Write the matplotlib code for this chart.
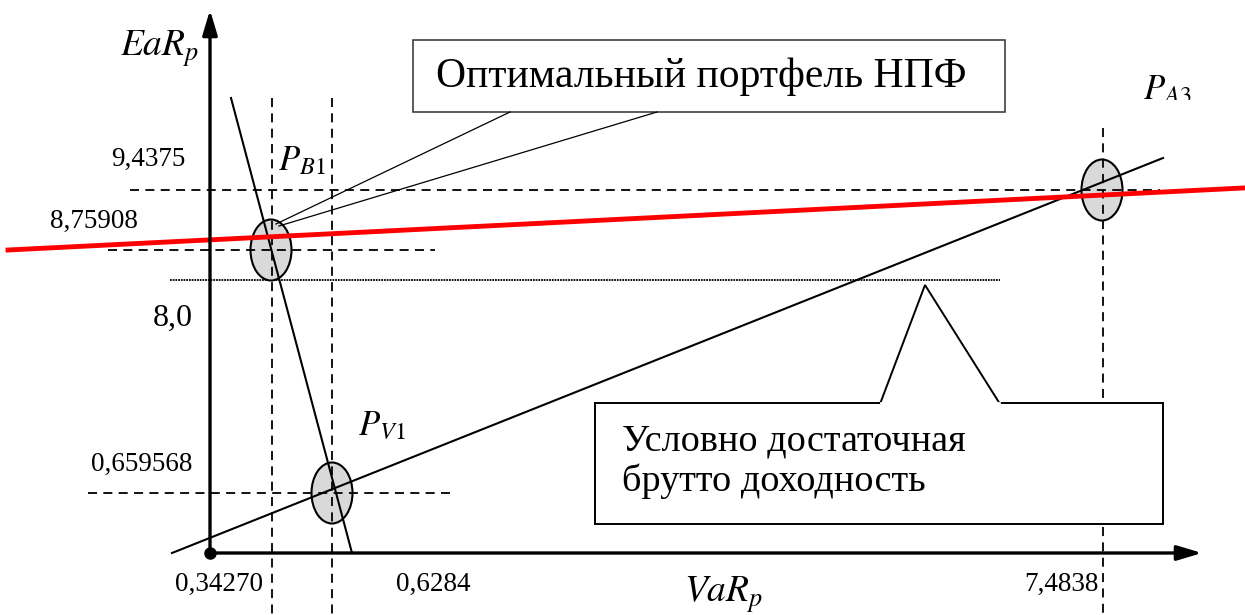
import matplotlib
matplotlib.use("Agg")
import matplotlib.pyplot as plt
from matplotlib.patches import Ellipse, Rectangle, Polygon

plt.rcParams['font.family'] = ['Liberation Serif', 'DejaVu Serif']
plt.rcParams['mathtext.fontset'] = 'stix'

# ---------- ДАННЫЕ (координаты схемы, пиксели рисунка) ----------
origin = (210, 553)
y_axis_top = 10
x_axis_end = 1202

# уровни по оси EaR_p и их подписи
y_levels = [190, 250, 493]
y_level_labels = ["9,4375", "8,75908", "0,659568"]
y_level_spans = [(130, 1160), (108, 435), (88, 455)]
y_label_pos = [(185, 166), (138, 228), (192, 471)]

# уровни по оси VaR_p
x_levels = [272, 332, 1103]
x_level_tops = [98, 98, 128]
x_level_labels = ["0,34270", "0,6284", "7,4838"]
x_label_pos = [(219, 591), (433, 591), (1061, 591)]

# условно достаточная доходность 8,0
level_8 = 280
level_8_span = (170, 1000)

# линии
red_line_x = [8, 1243]
red_line_y = [250, 188]
steep_x = [231, 352]
steep_y = [98, 553]
shallow_x = [172, 1163]
shallow_y = [553, 158]

# портфели
portfolios = ["$P_{B1}$", "$P_{V1}$", "$P_{A3}$"]
port_centers = [(271, 250), (332, 493), (1102, 190)]
port_label_pos = [(278, 170), (358, 435), (1143, 99)]

# ---------- РИСУНОК ----------
fig = plt.figure(figsize=(12.45, 6.15), dpi=100)
ax = fig.add_axes([0, 0, 1, 1])
ax.set_xlim(0, 1245)
ax.set_ylim(615, 0)
ax.axis('off')

dash = (0, (5, 3.5))

ax.plot(level_8_span, [level_8, level_8], color='black', lw=1.3,
        linestyle=(0, (1, 0.5)), zorder=2)

# эллипсы портфелей
for cx, cy in port_centers:
    ax.add_patch(Ellipse((cx, cy), 41, 61, facecolor='#d9d9d9',
                         edgecolor='black', lw=1.5, zorder=3))
for x, top in zip(x_levels, x_level_tops):
    ax.plot([x, x], [top, 615], color='black', lw=1.3, linestyle=dash, zorder=3.5)
for y, (x0, x1) in zip(y_levels, y_level_spans):
    ax.plot([x0, x1], [y, y], color='black', lw=1.3, linestyle=dash, zorder=3.5)

ax.plot(steep_x, steep_y, color='black', lw=1.5, zorder=4)
ax.plot(shallow_x, shallow_y, color='black', lw=1.5, zorder=4)
ax.plot(red_line_x, red_line_y, color='#ff0000', lw=3.5, zorder=5)

# оси
ax.annotate('', xy=(origin[0], y_axis_top), xytext=(origin[0], origin[1]),
            arrowprops=dict(arrowstyle='-|>,head_length=1.5,head_width=0.45',
                            lw=2.4, color='black', shrinkA=0, shrinkB=0), zorder=6)
ax.annotate('', xy=(x_axis_end, origin[1]), xytext=(origin[0], origin[1]),
            arrowprops=dict(arrowstyle='-|>,head_length=1.5,head_width=0.45',
                            lw=2.4, color='black', shrinkA=0, shrinkB=0), zorder=6)
ax.plot(*origin, 'o', color='black', ms=8, zorder=7)

# подписи осей
ax.text(120, 56, "$EaR_p$", fontsize=27, ha='left', va='baseline')
ax.text(684, 602, "$VaR_p$", fontsize=27, ha='left', va='baseline')

for (x, y), lab in zip(y_label_pos, y_level_labels):
    ax.text(x, y, lab, fontsize=19.5, ha='right', va='baseline')
for (x, y), lab in zip(x_label_pos, x_level_labels):
    ax.text(x, y, lab, fontsize=19.5, ha='center', va='baseline')
ax.text(193, 326, "8,0", fontsize=23, ha='right', va='baseline')

for (x, y), lab in zip(port_label_pos, portfolios):
    ax.text(x, y, lab, fontsize=25, ha='left', va='baseline', zorder=8)
# подпись P_A3 в оригинале обрезана снизу
ax.add_patch(Rectangle((1150, 100), 60, 24, facecolor='white', edgecolor='none',
                       zorder=9))

# выноска "Оптимальный портфель НПФ"
ax.add_patch(Rectangle((413, 40), 592, 72, facecolor='white', edgecolor='#404040',
                       lw=1.2, zorder=6))
ax.text(701, 77, "Оптимальный портфель НПФ", fontsize=30, ha='center',
        va='center', zorder=7)
ax.plot([510, 276], [112, 224], color='black', lw=0.9, zorder=6)
ax.plot([657, 279], [112, 226], color='black', lw=0.9, zorder=6)

# выноска "Условно достаточная брутто доходность"
ax.add_patch(Rectangle((595, 403), 568, 121, facecolor='white', edgecolor='black',
                       lw=1.4, zorder=6))
ax.add_patch(Polygon([[880, 404], [925, 285], [1000, 404]], closed=False,
                     facecolor='white', edgecolor='black', lw=1.4, zorder=7))
ax.plot([881, 999], [403, 403], color='white', lw=2, zorder=7.5)
ax.text(622, 450, "Условно достаточная", fontsize=27.5, ha='left',
        va='baseline', zorder=8)
ax.text(622, 491, "брутто доходность", fontsize=27.5, ha='left',
        va='baseline', zorder=8)

fig.savefig("out.png", dpi=100)
